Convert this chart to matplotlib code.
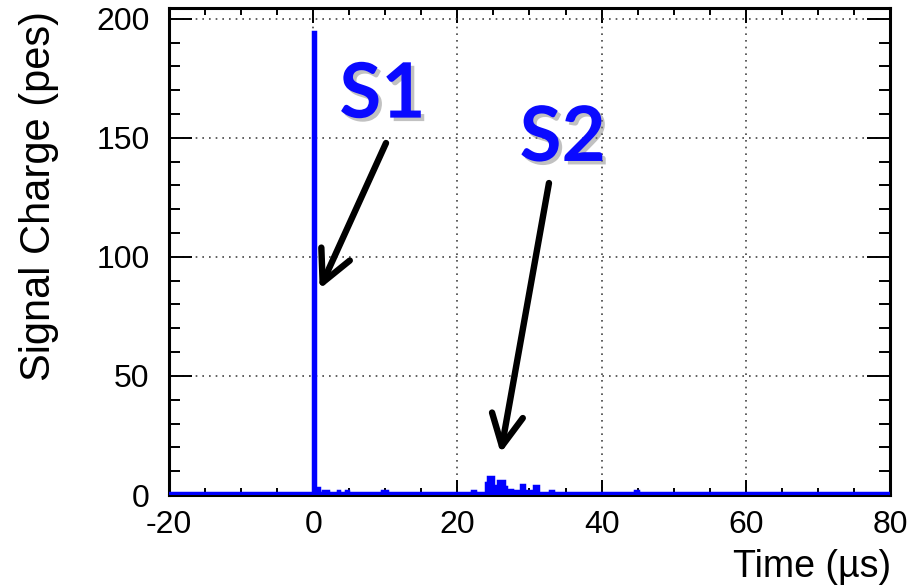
import numpy as np
import matplotlib
matplotlib.use('Agg')
import matplotlib.pyplot as plt
import matplotlib.patheffects as pe
from matplotlib.ticker import MultipleLocator

plt.rcParams['font.family'] = ['Liberation Sans', 'DejaVu Sans']
plt.rcParams['axes.unicode_minus'] = False

# Histogram data: segments of the waveform above the pedestal (start, end in us, charge in pes)
seg_start = [0.0, 0.2, 1.4, 3.4, 4.6, 9.6, 22.0,
             24.0, 24.2, 25.0, 25.6, 26.4, 26.8, 27.6, 28.8, 29.2, 30.6, 32.8, 44.6]
seg_end = [0.2, 0.8, 2.0, 3.6, 4.8, 10.2, 22.4,
           24.2, 25.0, 25.6, 26.4, 26.8, 27.6, 28.8, 29.2, 30.6, 31.2, 33.2, 45.0]
seg_charge = [194.5, 3.1, 1.8, 1.8, 1.8, 1.8, 1.5,
              5.0, 7.5, 3.6, 6.0, 3.2, 2.3, 1.5, 4.4, 1.5, 3.9, 1.6, 1.6]
pedestal = 1.0
bin_width = 0.2
t_min, t_max = -20, 80

x_ticks = [-20, 0, 20, 40, 60, 80]
y_ticks = [0, 50, 100, 150, 200]

# annotation labels: (text, text pos, arrow tail, arrow tip)
labels = ['S1', 'S2']
label_pos = [(9.6, 167.7), (34.6, 149.5)]
arrow_tail = [(10.1, 147.8), (32.7, 131.0)]
arrow_tip = [(0.9, 86.5), (26.0, 17.6)]

edges = np.arange(t_min, t_max + bin_width / 2, bin_width)
centers = 0.5 * (edges[:-1] + edges[1:])
values = np.full(len(centers), pedestal)
for s, e, q in zip(seg_start, seg_end, seg_charge):
    values[(centers > s) & (centers < e)] = q

fig = plt.figure(figsize=(9.16, 5.87), dpi=100)
ax = fig.add_axes([0.1845, 0.1567, 0.9716 - 0.1845, 0.9864 - 0.1567])

# filled histogram with a thick outline, like the ROOT drawing
ax.stairs(values, edges, baseline=0, fill=True, color='#0000ff', zorder=3)
ax.stairs(values, edges, color='#0000ff', lw=2.5, zorder=3)

ax.set_xlim(t_min, t_max)
ax.set_ylim(0, 204.5)
ax.set_xticks(x_ticks)
ax.set_yticks(y_ticks)
ax.xaxis.set_minor_locator(MultipleLocator(5))
ax.yaxis.set_minor_locator(MultipleLocator(10))

ax.tick_params(axis='both', which='both', direction='in', top=True, right=True,
               width=1.4, colors='black', labelsize=23)
ax.tick_params(axis='x', which='major', length=10.8, pad=11)
ax.tick_params(axis='x', which='minor', length=5)
ax.tick_params(axis='y', which='major', length=16.5, pad=14)
ax.tick_params(axis='y', which='minor', length=8)

for sp in ax.spines.values():
    sp.set_linewidth(2.2)

ax.grid(True, which='major', color='#444444', linestyle=(0, (1, 3)), linewidth=1.2)
ax.set_axisbelow(True)

fig.text(891 / 916, 1 - 577 / 587, 'Time (\u00b5s)', ha='right', va='baseline', fontsize=27)
fig.text(50 / 916, 0.666, 'Signal Charge (pes)', rotation=90, rotation_mode='anchor',
         ha='center', va='baseline', fontsize=30)

for txt, pos, tail, tip in zip(labels, label_pos, arrow_tail, arrow_tip):
    ax.text(pos[0], pos[1], txt, ha='center', va='center', fontsize=55,
            fontweight='bold', family='Lato', color='#0a0aff', zorder=5,
            path_effects=[pe.withSimplePatchShadow(offset=(2.5, -2.5),
                                                    shadow_rgbFace='#777777', alpha=0.45)])
    ax.annotate('', xy=tip, xytext=tail,
                arrowprops=dict(arrowstyle='->,head_length=0.9,head_width=0.45',
                                lw=4.6, color='black', shrinkA=0, shrinkB=0,
                                mutation_scale=25), zorder=6)

fig.savefig('out.png', dpi=100, facecolor='white')
